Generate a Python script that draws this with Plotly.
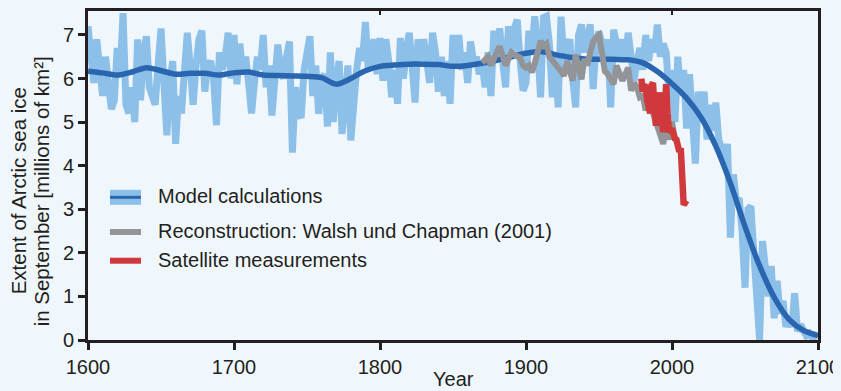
import plotly.graph_objects as go

# ---------------- data ----------------
model_years = list(range(1600, 2101, 2))
model_values = [
    7.2, 6.4, 5.9, 6.9, 6.2, 5.6, 6.5, 6.0, 5.3, 5.5,
    6.7, 6.1, 7.5, 5.4, 5.2, 5.8, 5.0, 6.9, 5.5, 6.6,
    6.97, 5.8, 5.55, 5.4, 6.3, 7.15, 5.9, 4.7, 5.9, 6.4,
    4.5, 5.6, 5.2, 6.5, 7.05, 6.3, 5.4, 6.3, 6.9, 7.1,
    5.7, 6.3, 6.4, 6.0, 4.93, 6.6, 6.2, 6.5, 7.05, 6.0,
    7.0, 5.87, 6.8, 6.1, 6.5, 5.9, 5.2, 5.9, 6.5, 6.2,
    7.0, 5.8, 6.3, 5.15, 6.3, 6.78, 6.2, 6.0, 6.5, 6.85,
    4.3, 5.8, 5.2, 5.1, 6.2, 6.6, 6.97, 5.6, 6.3, 5.19,
    6.0, 6.1, 4.9, 6.6, 5.0, 6.0, 6.4, 4.73, 5.8, 6.3,
    4.58, 5.6, 6.2, 6.7, 6.4, 7.3, 6.2, 6.6, 6.9, 6.1,
    6.93, 5.95, 6.9, 6.4, 5.57, 6.2, 5.42, 6.93, 6.0, 6.6,
    7.05, 6.3, 5.45, 6.9, 6.4, 6.9, 6.4, 5.9, 7.05, 6.6,
    5.7, 6.5, 5.6, 6.4, 5.42, 7.0, 6.3, 7.0, 6.2, 6.6,
    5.9, 6.85, 6.4, 6.5, 6.1, 6.3, 5.8, 6.6, 5.6, 7.1,
    6.5, 7.15, 6.4, 5.8, 7.2, 6.5, 7.15, 7.35, 6.4, 5.72,
    5.9, 7.1, 6.6, 7.43, 6.7, 5.57, 7.4, 7.43, 6.8, 5.57,
    6.6, 5.34, 7.42, 6.4, 6.7, 6.9, 6.0, 5.34, 7.0, 7.24,
    6.6, 6.9, 7.24, 5.76, 6.8, 7.08, 6.7, 6.5, 6.9, 5.34,
    7.12, 6.8, 6.5, 6.9, 6.4, 7.05, 6.6, 5.95, 6.4, 6.7,
    6.2, 7.0, 6.4, 6.9, 6.6, 7.24, 6.5, 6.8, 6.6, 5.6,
    6.2, 5.0, 6.5, 5.6, 6.2, 4.85, 6.1, 5.2, 4.05, 5.7,
    5.1, 5.7, 4.6, 5.4, 4.8, 5.45, 4.6, 4.4, 4.0, 4.5,
    2.35, 3.8, 3.2, 3.25, 2.5, 1.2, 3.0, 3.07, 2.0, 1.5,
    0.0, 2.27, 1.4, 1.0, 1.7, 0.5, 1.36, 0.6, 0.9, 0.3,
    0.5, 0.3, 1.07, 0.2, 0.35, 0.25, 0.1, 0.15, 0.05, 0.1,
    0.05,
]

smooth_years = list(range(1600, 2101, 10))
smooth_values = [
    6.17, 6.13, 6.08, 6.15, 6.25, 6.18, 6.1, 6.12, 6.12, 6.08,
    6.13, 6.15, 6.08, 6.07, 6.06, 6.05, 6.02, 5.87, 6.0, 6.18,
    6.28, 6.31, 6.33, 6.33, 6.32, 6.28, 6.3, 6.35, 6.42, 6.5,
    6.58, 6.62, 6.55, 6.49, 6.45, 6.44, 6.44, 6.43, 6.36, 6.16,
    5.88, 5.55, 5.1, 4.45, 3.6, 2.6, 1.7, 0.98, 0.48, 0.22,
    0.1,
]

recon_years = list(range(1870, 2003, 2))
recon_values = [
    6.36, 6.45, 6.5, 6.3, 6.5, 6.6, 6.74, 6.5, 6.3, 6.45,
    6.6, 6.55, 6.5, 6.48, 6.3, 6.25, 6.3, 6.14, 6.35, 6.6,
    6.86, 6.75, 6.8, 6.5, 6.4, 6.36, 6.25, 6.17, 6.06, 6.4,
    6.2, 5.95, 6.55, 6.3, 5.98, 6.45, 6.3, 6.6, 6.85, 6.95,
    7.0, 6.6, 6.17, 6.1, 6.0, 5.87, 6.3, 6.1, 5.95, 6.1,
    6.25, 5.72, 5.9, 5.8, 5.57, 5.6, 5.27, 5.5, 5.3, 5.11,
    4.9, 4.73, 4.5, 4.9, 4.6, 5.0, 4.6,
]

sat_years = list(range(1979, 2011))
sat_values = [
    6.0, 5.7, 5.85, 5.8, 5.5, 5.4, 5.2, 5.85, 5.9, 5.3,
    4.92, 5.2, 5.68, 5.5, 4.9, 4.77, 5.3, 5.87, 5.2, 4.77,
    4.8, 4.85, 4.7, 4.62, 4.6, 4.45, 4.32, 4.4, 3.71, 3.1,
    3.15, 3.2,
]

x_ticks = [1600, 1700, 1800, 1900, 2000, 2100]
y_ticks = [0, 1, 2, 3, 4, 5, 6, 7]
top_ticks = [1800, 2000]

legend_labels = ["Model calculations",
                 "Reconstruction: Walsh und Chapman (2001)",
                 "Satellite measurements"]
y_title_lines = ["Extent of Arctic sea ice", "in September [millions of km²]"]
x_title = "Year"

# ---------------- style ----------------
BG = "#f0f7fc"
AX = "#231f20"
LIGHT = "#8dc0e8"
DARK = "#2a66b0"
GREY = "#929497"
RED = "#d0393b"
FONT = "Liberation Sans, Arial, sans-serif"

# The page body keeps its default 8px margin, so the figure is laid out
# in div coordinates shifted by 8px from the window.
OFF = 8
W, H = 841, 391
# target plot-area edges in window pixels
L, R, T, B = 88, 818, 8, 340

fig = go.Figure()
fig.add_trace(go.Scatter(x=model_years, y=model_values, mode="lines",
                         line=dict(color=LIGHT, width=7), showlegend=False,
                         hoverinfo="skip"))
fig.add_trace(go.Scatter(x=smooth_years, y=smooth_values, mode="lines",
                         line=dict(color=DARK, width=5.5, shape="spline", smoothing=0.8),
                         showlegend=False))
fig.add_trace(go.Scatter(x=recon_years, y=recon_values, mode="lines",
                         line=dict(color=GREY, width=6), showlegend=False))
fig.add_trace(go.Scatter(x=sat_years, y=sat_values, mode="lines",
                         line=dict(color=RED, width=6.5), showlegend=False))
fig.add_trace(go.Scatter(x=[1600, 2100], y=[0, 0], xaxis="x2", mode="lines",
                         line=dict(width=0), showlegend=False, hoverinfo="skip"))

def px2paper_x(px):
    return (px - L) / (R - L)
def px2paper_y(py):
    return (B - py) / (B - T)

# ---------------- custom legend ----------------
shapes = []
lx0, lx1 = px2paper_x(110), px2paper_x(141)
legend_rows = [(196, LIGHT, 15), (231, GREY, 6), (260, RED, 6)]
for py, col, wd in legend_rows:
    shapes.append(dict(type="line", xref="paper", yref="paper",
                       x0=lx0, x1=lx1, y0=px2paper_y(py), y1=px2paper_y(py),
                       line=dict(color=col, width=wd)))
shapes.append(dict(type="line", xref="paper", yref="paper",
                   x0=lx0, x1=lx1, y0=px2paper_y(196), y1=px2paper_y(196),
                   line=dict(color=DARK, width=3)))

annotations = []
for (py, _, _), label in zip(legend_rows, legend_labels):
    annotations.append(dict(text=label, xref="paper", yref="paper",
                            x=px2paper_x(156), y=px2paper_y(py - 1),
                            xanchor="left", yanchor="middle", showarrow=False,
                            font=dict(size=20, color=AX, family=FONT)))

for line_text, cx in zip(y_title_lines, [18, 41]):
    annotations.append(dict(text=line_text, xref="paper", yref="paper",
                            x=px2paper_x(cx), y=px2paper_y(190),
                            xanchor="center", yanchor="middle", textangle=-90,
                            showarrow=False, font=dict(size=20.5, color=AX, family=FONT)))
annotations.append(dict(text=x_title, xref="paper", yref="paper",
                        x=0.5, y=px2paper_y(379), xanchor="center", yanchor="middle",
                        showarrow=False, font=dict(size=20, color=AX, family=FONT)))

fig.update_layout(
    width=W, height=H,
    margin=dict(l=L - OFF, r=W - (R - OFF), t=T - OFF, b=H - (B - OFF), pad=0),
    paper_bgcolor=BG, plot_bgcolor=BG,
    font=dict(family=FONT, size=20, color=AX),
    shapes=shapes, annotations=annotations,
    xaxis=dict(range=[1600, 2100], tickvals=x_ticks, ticks="outside", ticklen=7,
               tickwidth=2.5, tickcolor=AX, showline=True, linecolor=AX, linewidth=3,
               mirror=True, showgrid=False, zeroline=False,
               tickfont=dict(size=20, color=AX, family=FONT)),
    xaxis2=dict(range=[1600, 2100], overlaying="x", side="top", tickvals=top_ticks,
                ticks="inside", ticklen=4, tickwidth=1.5, tickcolor=AX,
                showticklabels=False, showline=False, showgrid=False, zeroline=False),
    yaxis=dict(range=[0, 7.55], tickvals=y_ticks, ticks="outside", ticklen=7,
               tickwidth=2.5, tickcolor=AX, showline=True, linecolor=AX, linewidth=3,
               mirror=True, showgrid=False, zeroline=False,
               tickfont=dict(size=20, color=AX, family=FONT)),
    showlegend=False,
)

fig.write_html(
    "out.html",
    config={"displayModeBar": False},
    post_script="document.body.style.background='#f0f7fc';",
)
